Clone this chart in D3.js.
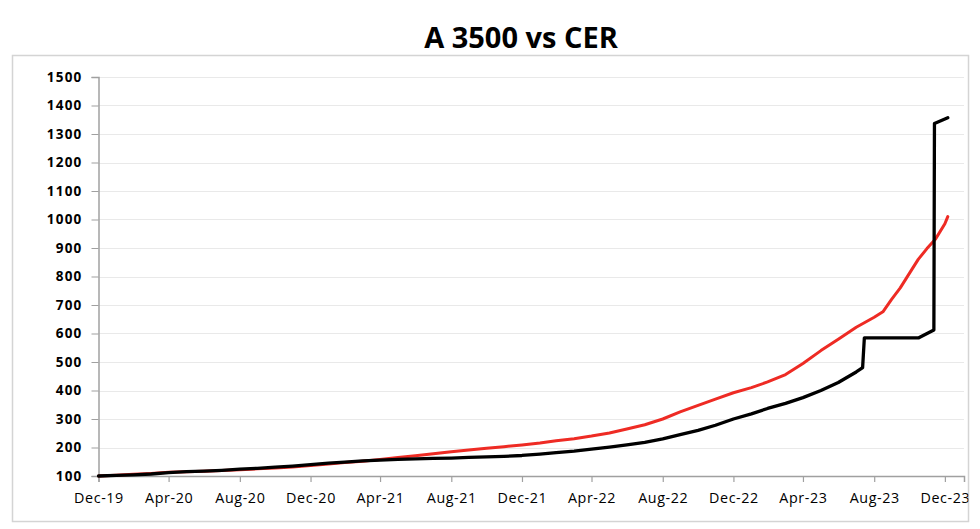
<!DOCTYPE html>
<html>
<head>
<meta charset="utf-8">
<script src="https://cdn.jsdelivr.net/npm/d3@7"></script>
<style>
  html, body { margin: 0; padding: 0; background: #ffffff; }
  svg { display: block; }
</style>
</head>
<body>
<svg id="chart" width="980" height="529"></svg>
<script>
// ---------- DATA ----------
const chartTitle = "A 3500 vs CER";

const yTicks = [100, 200, 300, 400, 500, 600, 700, 800, 900, 1000, 1100, 1200, 1300, 1400, 1500];

const xTickDates = ["2019-12-31", "2020-04-30", "2020-08-31", "2020-12-31", "2021-04-30", "2021-08-31",
  "2021-12-31", "2022-04-30", "2022-08-31", "2022-12-31", "2023-04-30", "2023-08-31", "2023-12-31"];
const xTickLabels = ["Dec-19", "Apr-20", "Aug-20", "Dec-20", "Apr-21", "Aug-21",
  "Dec-21", "Apr-22", "Aug-22", "Dec-22", "Apr-23", "Aug-23", "Dec-23"];

// CER (red)
const cerDates = ["2019-12-31", "2020-01-31", "2020-02-29", "2020-03-31", "2020-04-30", "2020-05-31",
  "2020-06-30", "2020-07-31", "2020-08-31", "2020-09-30", "2020-10-31", "2020-11-30",
  "2020-12-31", "2021-01-31", "2021-02-28", "2021-03-31", "2021-04-30", "2021-05-31",
  "2021-06-30", "2021-07-31", "2021-08-31", "2021-09-30", "2021-10-31", "2021-11-30",
  "2021-12-31", "2022-01-31", "2022-02-28", "2022-03-31", "2022-04-30", "2022-05-31",
  "2022-06-30", "2022-07-31", "2022-08-31", "2022-09-30", "2022-10-31", "2022-11-30",
  "2022-12-31", "2023-01-31", "2023-02-28", "2023-03-31", "2023-04-30", "2023-05-31",
  "2023-06-30", "2023-07-31", "2023-08-31", "2023-09-15", "2023-09-30", "2023-10-15",
  "2023-10-31", "2023-11-15", "2023-11-30", "2023-12-15", "2023-12-31", "2024-01-05"];
const cerValues = [100, 103, 106, 109, 113, 115,
  117, 119, 122, 125, 128, 132,
  137, 142, 147, 152, 158, 165,
  171, 178, 185, 191, 197, 203,
  209, 216, 224, 231, 240, 251,
  265, 280, 300, 325, 348, 370,
  392, 410, 430, 456, 495, 540,
  580, 622, 657, 676, 720, 760,
  812, 860, 898, 932, 985, 1010];

// A 3500 (black)
const a3500Dates = ["2019-12-31", "2020-01-31", "2020-02-29", "2020-03-31", "2020-04-30", "2020-05-31",
  "2020-06-30", "2020-07-31", "2020-08-31", "2020-09-30", "2020-10-31", "2020-11-30",
  "2020-12-31", "2021-01-31", "2021-02-28", "2021-03-31", "2021-04-30", "2021-05-31",
  "2021-06-30", "2021-07-31", "2021-08-31", "2021-09-30", "2021-10-31", "2021-11-30",
  "2021-12-31", "2022-01-31", "2022-02-28", "2022-03-31", "2022-04-30", "2022-05-31",
  "2022-06-30", "2022-07-31", "2022-08-31", "2022-09-30", "2022-10-31", "2022-11-30",
  "2022-12-31", "2023-01-31", "2023-02-28", "2023-03-31", "2023-04-30", "2023-05-31",
  "2023-06-30", "2023-07-31", "2023-08-11", "2023-08-14", "2023-11-16", "2023-12-12",
  "2023-12-13", "2024-01-05"];
const a3500Values = [100, 102, 104, 107, 112, 115,
  117, 120, 124, 127, 131, 135,
  140, 145, 149, 153, 156, 158,
  160, 162, 163, 165, 167, 169,
  172, 177, 182, 187, 194, 201,
  209, 218, 230, 245, 260, 278,
  300, 318, 337, 355, 375, 400,
  428, 465, 480, 585, 585, 612,
  1337, 1357];

const xDomain = ["2019-12-31", "2024-02-02"];
const yDomain = [100, 1500];

// ---------- DRAW ----------
const parse = d3.utcParse("%Y-%m-%d");
const svg = d3.select("#chart");

const frame = { x0: 12.5, y0: 55.5, x1: 968.5, y1: 521.5 };
const plot = { left: 98.5, right: 964, top: 77, bottom: 476 };

const x = d3.scaleUtc().domain(xDomain.map(parse)).range([plot.left, plot.right]);
const y = d3.scaleLinear().domain(yDomain).range([plot.bottom, plot.top]);

svg.append("defs").append("clipPath").attr("id", "frameClip")
  .append("rect").attr("x", frame.x0).attr("y", frame.y0)
  .attr("width", frame.x1 - frame.x0).attr("height", frame.y1 - frame.y0);

// outer chart border
svg.append("rect")
  .attr("x", frame.x0).attr("y", frame.y0)
  .attr("width", frame.x1 - frame.x0).attr("height", frame.y1 - frame.y0)
  .attr("fill", "#ffffff").attr("stroke", "#d4d4d4").attr("stroke-width", 1.5);

// title
svg.append("text")
  .attr("x", 521).attr("y", 48.3)
  .attr("text-anchor", "middle")
  .attr("font-family", "'Open Sans', sans-serif")
  .attr("font-weight", "bold")
  .attr("font-size", 29)
  .attr("fill", "#000")
  .text(chartTitle);

const g = svg.append("g").attr("clip-path", "url(#frameClip)");

// gridlines
g.append("g").selectAll("line").data(yTicks.filter(d => d !== 100)).join("line")
  .attr("x1", plot.left).attr("x2", plot.right)
  .attr("y1", d => Math.round(y(d)) + 0.5).attr("y2", d => Math.round(y(d)) + 0.5)
  .attr("stroke", "#e9e9e9").attr("stroke-width", 1.2);

// y axis
const yAxis = d3.axisLeft(y).tickValues(yTicks).tickSize(7).tickPadding(9).tickFormat(d3.format("d"));
const yg = g.append("g").attr("transform", `translate(${plot.left},0)`).call(yAxis);
yg.select(".domain").attr("stroke", "#a0a0a0").attr("stroke-width", 1.5);
yg.selectAll(".tick line").attr("stroke", "#a0a0a0").attr("stroke-width", 1.2);
yg.selectAll(".tick text")
  .attr("font-family", "'Open Sans', sans-serif")
  .attr("font-weight", "bold")
  .attr("font-size", 13.5)
  .attr("letter-spacing", 1.2)
  .attr("fill", "#000");

// x axis
const xAxis = d3.axisBottom(x)
  .tickValues(xTickDates.map(parse))
  .tickSize(6).tickPadding(11)
  .tickFormat((d, i) => xTickLabels[i]);
const xg = g.append("g").attr("transform", `translate(0,${plot.bottom})`).call(xAxis);
xg.select(".domain").attr("stroke", "#a0a0a0").attr("stroke-width", 1.5);
xg.selectAll(".tick line").attr("stroke", "#a0a0a0").attr("stroke-width", 1.2);
xg.selectAll(".tick text")
  .attr("font-family", "'Open Sans', sans-serif")
  .attr("font-size", 14.3)
  .attr("letter-spacing", 0.6)
  .attr("fill", "#000");

// lines
const line = d3.line().x(d => x(d.date)).y(d => y(d.value));
const cerData = cerDates.map((d, i) => ({ date: parse(d), value: cerValues[i] }));
const a3500Data = a3500Dates.map((d, i) => ({ date: parse(d), value: a3500Values[i] }));

g.append("path").datum(cerData)
  .attr("d", line).attr("fill", "none")
  .attr("stroke", "#ee2b24").attr("stroke-width", 3)
  .attr("stroke-linejoin", "round").attr("stroke-linecap", "round");

g.append("path").datum(a3500Data)
  .attr("d", line).attr("fill", "none")
  .attr("stroke", "#000000").attr("stroke-width", 3.3)
  .attr("stroke-linejoin", "round").attr("stroke-linecap", "round");
</script>
</body>
</html>
